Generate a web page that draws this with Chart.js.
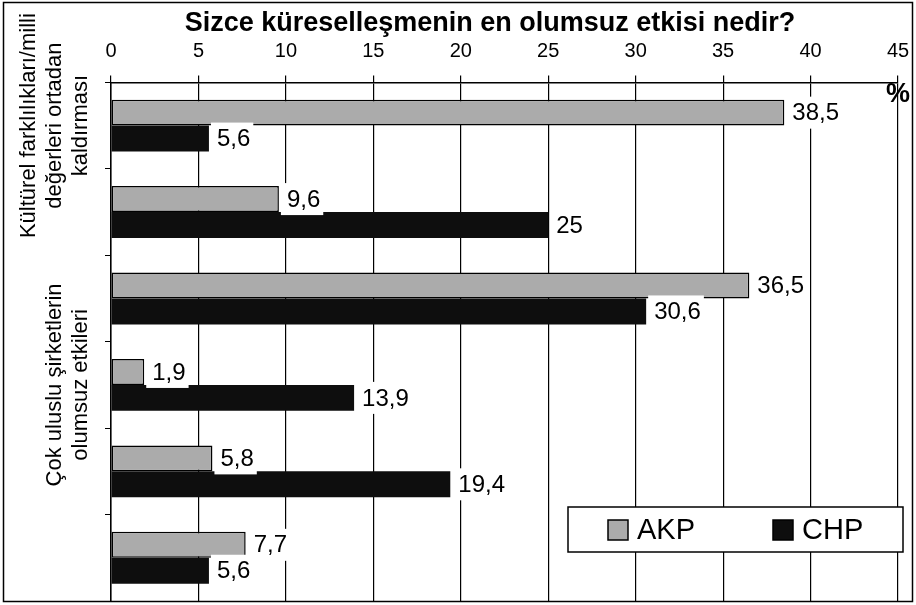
<!DOCTYPE html>
<html>
<head>
<meta charset="utf-8">
<script src="https://cdn.jsdelivr.net/npm/chart.js@4.4.1/dist/chart.umd.min.js"></script>
<style>
  html, body { margin: 0; padding: 0; background: #fff; }
  #wrap { width: 916px; height: 605px; }
</style>
</head>
<body>
<div id="wrap"><canvas id="chart"></canvas></div>
<script>
const FONT = "'Liberation Sans', Arial, sans-serif"

const title = 'Sizce küreselleşmenin en olumsuz etkisi nedir?'
const unit = '%'

// only every third category label is printed in the original
const categories = [
  ['Kültürel farklılıkları/milli', 'değerleri ortadan', 'kaldırması'],
  [],
  [],
  ['Çok uluslu şirketlerin', 'olumsuz etkileri'],
  [],
  []
]
const seriesNames = ['AKP', 'CHP']
const akpValues = [38.5, 9.6, 36.5, 1.9, 5.8, 7.7]
const chpValues = [5.6, 25, 30.6, 13.9, 19.4, 5.6]
const xMin = 0
const xMax = 45
const xStep = 5

const fmt = (v) => String(v).replace('.', ',')

const frame = {
  id: 'frame',
  beforeDraw(chart) {
    const { ctx, width, height } = chart
    ctx.save()
    ctx.fillStyle = '#fff'
    ctx.fillRect(0, 0, width, height)
    ctx.restore()
  },
  afterDraw(chart) {
    const { ctx } = chart
    ctx.save()
    ctx.strokeStyle = '#000'
    ctx.lineWidth = 1.5
    ctx.strokeRect(3.5, 2.5, 909, 599)
    ctx.restore()
  }
}

const valueLabels = {
  id: 'valueLabels',
  afterDatasetsDraw(chart) {
    const { ctx } = chart
    ctx.save()
    ctx.font = `24px ${FONT}`
    ctx.textBaseline = 'middle'
    ctx.textAlign = 'left'
    chart.data.datasets.forEach((ds, di) => {
      chart.getDatasetMeta(di).data.forEach((bar, i) => {
        const text = fmt(ds.data[i])
        const w = ctx.measureText(text).width
        ctx.fillStyle = '#fff'
        ctx.fillRect(bar.x + 2, bar.y - 16, w + 9, 32)
        ctx.fillStyle = '#000'
        ctx.fillText(text, bar.x + 8, bar.y + 1)
      })
    })
    ctx.restore()
  }
}

const extras = {
  id: 'extras',
  afterDraw(chart) {
    const { ctx, chartArea, scales } = chart
    ctx.save()

    // category labels, rotated
    ctx.font = `22px ${FONT}`
    ctx.fillStyle = '#000'
    ctx.textAlign = 'center'
    ctx.textBaseline = 'middle'
    categories.forEach((lines, i) => {
      const y = scales.y.getPixelForValue(i)
      lines.forEach((line, j) => {
        const x = chartArea.left - 30 - (lines.length - 1 - j) * 26
        ctx.save()
        ctx.translate(x, y)
        ctx.rotate(-Math.PI / 2)
        ctx.fillText(line, 0, 0)
        ctx.restore()
      })
    })

    // unit sign
    ctx.font = `bold 27px ${FONT}`
    ctx.fillText(unit, chartArea.right, chartArea.top + 12)

    // legend box
    const bx = chartArea.right - 330
    const by = chartArea.bottom - 94
    ctx.fillStyle = '#fff'
    ctx.fillRect(bx, by, 335, 45)
    ctx.strokeStyle = '#000'
    ctx.lineWidth = 1.5
    ctx.strokeRect(bx, by, 335, 45)
    ctx.font = `29px ${FONT}`
    ctx.textAlign = 'left'
    chart.data.datasets.forEach((ds, i) => {
      const sx = bx + 40 + i * 165
      ctx.fillStyle = ds.backgroundColor
      ctx.fillRect(sx, by + 13, 20, 20)
      ctx.strokeStyle = '#000'
      ctx.lineWidth = 1.5
      ctx.strokeRect(sx, by + 13, 20, 20)
      ctx.fillStyle = '#000'
      ctx.fillText(ds.label, sx + 29, by + 24)
    })
    ctx.restore()
  }
}

new Chart(document.getElementById('chart'), {
  type: 'bar',
  data: {
    labels: categories,
    datasets: [
      {
        label: seriesNames[0],
        data: akpValues,
        backgroundColor: '#ababab',
        borderColor: '#000',
        borderWidth: 1.5,
        borderSkipped: false
      },
      {
        label: seriesNames[1],
        data: chpValues,
        backgroundColor: '#0e0e0e',
        borderColor: '#000',
        borderWidth: 0
      }
    ]
  },
  options: {
    indexAxis: 'y',
    responsive: true,
    maintainAspectRatio: false,
    animation: false,
    categoryPercentage: 0.6,
    barPercentage: 1,
    layout: { padding: { top: 4, left: 82, right: 18, bottom: 4 } },
    plugins: {
      legend: { display: false },
      tooltip: { enabled: false },
      title: {
        display: true,
        text: title,
        color: '#000',
        font: { family: FONT, size: 27, weight: 'bold' },
        padding: { top: 3, bottom: -12 }
      }
    },
    scales: {
      x: {
        position: 'top',
        min: xMin,
        max: xMax,
        ticks: {
          stepSize: xStep,
          color: '#000',
          padding: 12,
          font: { family: FONT, size: 20 }
        },
        grid: { color: '#000', lineWidth: 1.2, tickLength: 7 },
        border: { color: '#000', width: 1.5 },
        // end labels may hang over the edges, layout padding covers them
        afterFit: (scale) => {
          scale.paddingLeft = 0
          scale.paddingRight = 0
        }
      },
      y: {
        ticks: { display: false },
        grid: { color: '#000', drawOnChartArea: false, tickLength: 6 },
        border: { color: '#000', width: 1.5 },
        afterFit: (scale) => { scale.width = 29 }
      }
    }
  },
  plugins: [frame, valueLabels, extras]
})
</script>
</body>
</html>
